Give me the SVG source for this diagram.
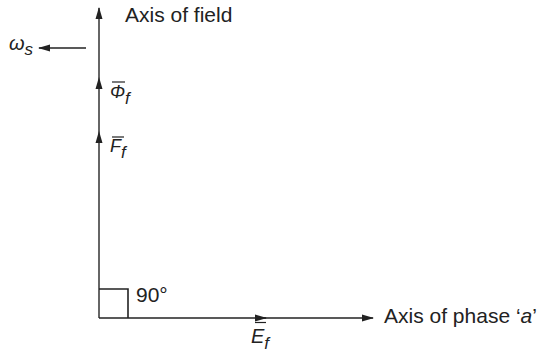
<svg xmlns="http://www.w3.org/2000/svg" width="548" height="353" viewBox="0 0 548 353">
<style>
.t{font-family:"Liberation Sans",Arial,sans-serif;font-size:21px;fill:#222}
.i{font-family:"Liberation Sans",Arial,sans-serif;font-style:italic;fill:#222}
.ln{stroke:#666;stroke-width:2;fill:none}
.bk{stroke:#222;stroke-width:1.6;fill:none}
.ov{stroke:#222;stroke-width:1.2}
</style>
<defs>
<marker id="ah" markerWidth="12" markerHeight="8" refX="11" refY="4" orient="auto" markerUnits="userSpaceOnUse">
<path d="M0,0.5 L12,4 L0,7.5 Z" fill="#222"/>
</marker>
</defs>
<rect width="548" height="353" fill="#fff"/>
<g id="connectors">
<line class="ln" x1="99" y1="318" x2="99" y2="8" marker-end="url(#ah)"/>
<line class="ln" x1="99" y1="100" x2="99" y2="78" marker-end="url(#ah)"/>
<line class="ln" x1="99" y1="160" x2="99" y2="132" marker-end="url(#ah)"/>
<line class="bk" x1="99" y1="318" x2="266" y2="318" marker-end="url(#ah)"/>
<line class="bk" x1="260" y1="318" x2="373" y2="318" marker-end="url(#ah)"/>
<line class="bk" x1="86" y1="48" x2="39" y2="48" marker-end="url(#ah)"/>
<polyline class="bk" points="99,289 128,289 128,318"/>
</g>
<g id="axis-field"><text class="t" x="125" y="22">Axis of field</text></g>
<g id="omega"><text class="i" x="9" y="50" font-size="20">ω<tspan font-size="17" dy="5">s</tspan></text></g>
<g id="phi"><line class="ov" x1="112" y1="82" x2="125" y2="82"/><text class="i" x="110" y="98" font-size="18">Φ<tspan font-size="17" dy="6">f</tspan></text></g>
<g id="ff"><line class="ov" x1="112" y1="137" x2="124" y2="137"/><text class="i" x="110" y="152" font-size="18">F<tspan font-size="17" dy="6">f</tspan></text></g>
<g id="ef"><line class="ov" x1="255" y1="322.5" x2="266" y2="322.5"/><text class="i" x="251" y="343" font-size="20">E<tspan font-size="17" dy="6">f</tspan></text></g>
<g id="angle"><text class="t" x="136" y="302" font-size="19">90°</text></g>
<g id="axis-a"><text class="t" x="384" y="323" font-size="21.5">Axis of phase ‘<tspan font-style="italic">a</tspan>’</text></g>
</svg>
